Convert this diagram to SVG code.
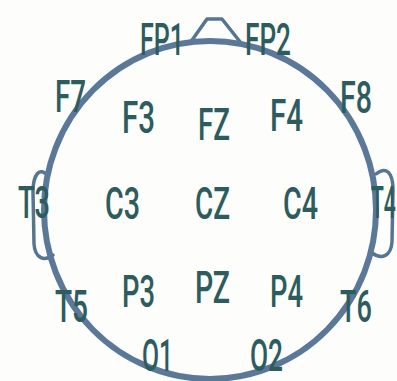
<svg xmlns="http://www.w3.org/2000/svg" width="397" height="381" viewBox="0 0 397 381">
<style>
.head{fill:none;stroke:#5b7898;stroke-width:6}
.part{fill:none;stroke:#557590;stroke-width:3.5;stroke-linejoin:round;stroke-linecap:round}
.lbl{font-family:Roboto,"Liberation Sans",sans-serif;font-size:44px;font-weight:500;fill:#2d5c5e}
</style>
<rect width="397" height="381" fill="#fdfdfb"/>
<g id="head">
<path class="part" d="M190 43 L207 19 L222 19 L241 43"/>
<path class="part" d="M48 176 C40 166 33 174 33 192 L34 244 C35 258 44 262 53 255"/>
<path class="part" d="M376 174 C386 166 393 172 393 190 L392 242 C391 256 382 260 372 253"/>
<ellipse class="head" cx="210" cy="210" rx="166" ry="169"/>
</g>
<g id="connectors"></g>
<g id="FP1"><text class="lbl" x="140" y="55" textLength="44" lengthAdjust="spacingAndGlyphs">FP1</text></g>
<g id="FP2"><text class="lbl" x="245" y="55" textLength="46" lengthAdjust="spacingAndGlyphs">FP2</text></g>
<g id="F7"><text class="lbl" x="55" y="112" textLength="31" lengthAdjust="spacingAndGlyphs">F7</text></g>
<g id="F3"><text class="lbl" x="122" y="133" textLength="33" lengthAdjust="spacingAndGlyphs">F3</text></g>
<g id="FZ"><text class="lbl" x="198" y="140" textLength="32" lengthAdjust="spacingAndGlyphs">FZ</text></g>
<g id="F4"><text class="lbl" x="270" y="131" textLength="33" lengthAdjust="spacingAndGlyphs">F4</text></g>
<g id="F8"><text class="lbl" x="340" y="113" textLength="32" lengthAdjust="spacingAndGlyphs">F8</text></g>
<g id="T3"><text class="lbl" x="18" y="218" textLength="32" lengthAdjust="spacingAndGlyphs">T3</text></g>
<g id="C3"><text class="lbl" x="105" y="219" textLength="35" lengthAdjust="spacingAndGlyphs">C3</text></g>
<g id="CZ"><text class="lbl" x="195" y="219" textLength="35" lengthAdjust="spacingAndGlyphs">CZ</text></g>
<g id="C4"><text class="lbl" x="283" y="219" textLength="35" lengthAdjust="spacingAndGlyphs">C4</text></g>
<g id="T4"><text class="lbl" transform="translate(371 218) scale(0.48 1)">T4</text></g>
<g id="T5"><text class="lbl" x="55" y="322" textLength="33" lengthAdjust="spacingAndGlyphs">T5</text></g>
<g id="P3"><text class="lbl" x="122" y="307" textLength="33" lengthAdjust="spacingAndGlyphs">P3</text></g>
<g id="PZ"><text class="lbl" x="195" y="303" textLength="35" lengthAdjust="spacingAndGlyphs">PZ</text></g>
<g id="P4"><text class="lbl" x="270" y="307" textLength="33" lengthAdjust="spacingAndGlyphs">P4</text></g>
<g id="T6"><text class="lbl" x="340" y="322" textLength="32" lengthAdjust="spacingAndGlyphs">T6</text></g>
<g id="O1"><text class="lbl" x="142" y="371" textLength="31" lengthAdjust="spacingAndGlyphs">O1</text></g>
<g id="O2"><text class="lbl" x="250" y="371" textLength="33" lengthAdjust="spacingAndGlyphs">O2</text></g>
</svg>
